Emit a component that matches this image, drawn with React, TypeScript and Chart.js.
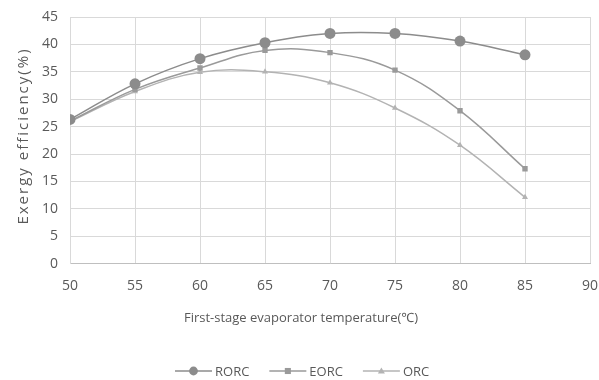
import React, { useEffect, useRef } from "react";
import { Chart, registerables } from "chart.js";

Chart.register(...registerables);

const temps = [50, 55, 60, 65, 70, 75, 80, 85];
const rorc = [26.3, 32.8, 37.4, 40.3, 42.0, 42.0, 40.6, 38.1];
const eorc = [26.0, 31.8, 35.7, 38.9, 38.5, 35.3, 27.9, 17.3];
const orc = [25.9, 31.4, 34.9, 35.0, 33.0, 28.4, 21.6, 12.1];
const seriesNames = ["RORC", "EORC", "ORC"];
const seriesColors = ["#8c8c8c", "#9a9a9a", "#b3b3b3"];
const seriesPoints = ["circle", "rect", "triangle"];
const pointRadii = [5.5, 3.8, 3.5];
const yTitle = "Exergy efficiency(%)";
const xTitle = "First-stage evaporator temperature(℃)";

const FONT = "'Open Sans', 'Noto Sans', sans-serif";
const TEXT = "#595959";

const textPlugin = {
  id: "customText",
  afterDraw(chart: any) {
    const ctx = chart.ctx;
    // y axis title
    ctx.save();
    ctx.font = `15px ${FONT}`;
    (ctx as any).letterSpacing = "2px";
    ctx.fillStyle = TEXT;
    ctx.textAlign = "center";
    ctx.textBaseline = "middle";
    ctx.translate(24, 136);
    ctx.rotate(-Math.PI / 2);
    ctx.fillText(yTitle, 0, 0);
    ctx.restore();

    // x axis title
    ctx.save();
    ctx.font = `13px ${FONT}`;
    ctx.fillStyle = TEXT;
    ctx.textAlign = "center";
    ctx.textBaseline = "middle";
    ctx.fillText(xTitle, 301, 318);
    ctx.restore();

    // legend
    const y = 371;
    ctx.save();
    ctx.font = `13px ${FONT}`;
    const lineW = 37;
    const gap = 20;
    let x = 175;
    seriesNames.forEach((n, i) => {
      const c = seriesColors[i];
      ctx.strokeStyle = c;
      ctx.lineWidth = 1.5;
      ctx.beginPath();
      ctx.moveTo(x, y);
      ctx.lineTo(x + lineW, y);
      ctx.stroke();
      ctx.fillStyle = c;
      const cx = x + lineW / 2;
      const r = pointRadii[i];
      ctx.beginPath();
      if (seriesPoints[i] === "circle") {
        ctx.arc(cx, y, r * 0.8, 0, Math.PI * 2);
      } else if (seriesPoints[i] === "rect") {
        ctx.rect(cx - r * 0.8, y - r * 0.8, r * 1.6, r * 1.6);
      } else {
        ctx.moveTo(cx, y - r);
        ctx.lineTo(cx + r, y + r * 0.7);
        ctx.lineTo(cx - r, y + r * 0.7);
        ctx.closePath();
      }
      ctx.fill();
      ctx.fillStyle = TEXT;
      ctx.textBaseline = "middle";
      ctx.textAlign = "left";
      ctx.fillText(n, x + lineW + 3, y + 1);
      x += lineW + 3 + ctx.measureText(n).width + gap;
    });
    ctx.restore();
  },
};

export default function App() {
  const ref = useRef<HTMLCanvasElement | null>(null);
  useEffect(() => {
    if (!ref.current) return;
    const data = [rorc, eorc, orc];
    const chart = new Chart(ref.current, {
      type: "line",
      data: {
        datasets: seriesNames.map((name, i) => ({
          label: name,
          data: temps.map((t, j) => ({ x: t, y: data[i][j] })),
          borderColor: seriesColors[i],
          backgroundColor: seriesColors[i],
          borderWidth: 1.5,
          pointStyle: seriesPoints[i] as any,
          pointRadius: pointRadii[i],
          pointBorderWidth: 0,
          tension: 0.4,
        })),
      },
      options: {
        animation: false,
        responsive: false,
        maintainAspectRatio: false,
        layout: { padding: { top: 0, right: 0, bottom: 48, left: 30 } },
        plugins: {
          legend: { display: false },
          tooltip: { enabled: false },
        },
        scales: {
          x: {
            type: "linear",
            min: 50,
            max: 90,
            afterFit: (s: any) => {
              s.paddingRight = 9;
            },
            ticks: { stepSize: 5, color: TEXT, font: { size: 14, family: FONT }, padding: 14 },
            grid: { color: "#d9d9d9", drawTicks: false },
            border: { color: "#bfbfbf" },
            title: {
              display: true,
              text: " ",
              font: { size: 13, family: FONT },
              padding: { top: 4 },
            },
          },
          y: {
            min: 0,
            max: 45,
            afterFit: (s: any) => {
              s.paddingTop = 17;
            },
            ticks: { stepSize: 5, color: TEXT, font: { size: 14, family: FONT }, padding: 12 },
            grid: { color: "#d9d9d9", drawTicks: false },
            border: { color: "#d9d9d9" },
          },
        },
      },
      plugins: [textPlugin],
    });
    return () => chart.destroy();
  }, []);
  return (
    <div style={{ position: "fixed", left: 0, top: 0, width: 599, height: 380, background: "#fff" }}>
      <canvas ref={ref} width={599} height={380} />
    </div>
  );
}
